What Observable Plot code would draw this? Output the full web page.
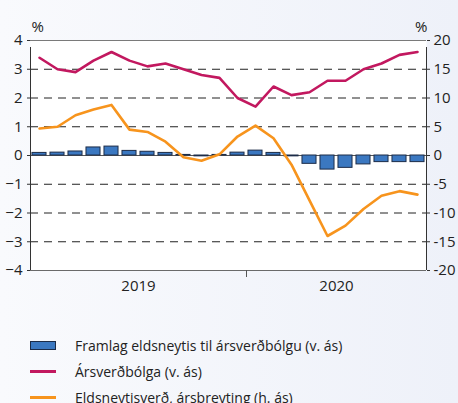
<!DOCTYPE html>
<html><head><meta charset="utf-8">
<script src="https://cdn.jsdelivr.net/npm/d3@7"></script>
<script src="https://cdn.jsdelivr.net/npm/@observablehq/plot@0.6"></script>
<style>
html,body{margin:0;padding:0;}
body{width:458px;height:403px;overflow:hidden;background:linear-gradient(90deg,#f9fafd 0%,#eef1f9 100%);font-family:"Open Sans",sans-serif;}
#legend{position:absolute;left:30px;top:332px;font-size:14px;color:#222;}
.row{height:26px;display:flex;align-items:center;}
.sw{width:26px;margin-right:19px;box-sizing:border-box;}
</style></head>
<body>
<div id="chart"></div>
<div id="legend"></div>
<script>
const months = ["2019-01","2019-02","2019-03","2019-04","2019-05","2019-06","2019-07","2019-08","2019-09","2019-10","2019-11","2019-12",
                "2020-01","2020-02","2020-03","2020-04","2020-05","2020-06","2020-07","2020-08","2020-09","2020-10"];
const inflation = [3.4,3.0,2.9,3.3,3.6,3.3,3.1,3.2,3.0,2.8,2.7,2.0,1.7,2.4,2.1,2.2,2.6,2.6,3.0,3.2,3.5,3.6];
const fuelChange = [4.7,5.0,7.0,8.0,8.8,4.5,4.1,2.4,-0.3,-0.9,0.2,3.3,5.2,3.0,-1.6,-7.8,-14.0,-12.2,-9.3,-7.0,-6.2,-6.8];
const fuelContribution = [0.09,0.1,0.14,0.28,0.31,0.16,0.13,0.09,0.02,-0.03,0.02,0.1,0.17,0.09,-0.03,-0.29,-0.49,-0.43,-0.31,-0.23,-0.23,-0.23];
const years = ["2019","2020"];
const leftTicks = [-4,-3,-2,-1,0,1,2,3,4];
const gridTicks = [-3,-2,-1,1,2,3];
const legendLabels = ["Framlag eldsneytis til ársverðbólgu (v. ás)","Ársverðbólga (v. ás)","Eldsneytisverð, ársbreyting (h. ás)"];

const C_BAR = "#3b78c1", C_BAR_STROKE = "#1c2c48", C_INF = "#c2185f", C_FUEL = "#f7941d";
const RATIO = 5; // right axis = left axis * 5

const data = months.map((m,i)=>({i, m, inf: inflation[i], fuel: fuelChange[i], contrib: fuelContribution[i]}));
const yearIdx = years.map(y => {
  const idx = months.map((m,i)=>m.startsWith(y)?i:-1).filter(i=>i>=0);
  return {year:y, mid:(idx[0]+idx[idx.length-1])/2, start: idx[0]-0.5};
});

const plot = Plot.plot({
  width: 458, height: 300,
  marginLeft: 30, marginRight: 32, marginTop: 40, marginBottom: 30,
  style: {background: "transparent", fontFamily: "Open Sans, sans-serif", fontSize: "15px", color: "#222"},
  x: {domain: [-0.5, months.length - 0.5], axis: null},
  y: {domain: [-4, 4], axis: null},
  marks: [
    Plot.frame({fill: "white", stroke: "none"}),
    Plot.ruleY(gridTicks, {stroke: "#222", strokeWidth: 1, strokeDasharray: "8,6"}),
    Plot.ruleY([4], {stroke: "#7a7a7a"}),
    Plot.ruleY([-4], {stroke: "#6a6a6a"}),
    Plot.ruleY([0], {stroke: "#555"}),
    Plot.rectY(data, {x1: d => d.i - 0.39, x2: d => d.i + 0.39, y1: 0, y2: "contrib", fill: C_BAR, stroke: C_BAR_STROKE, strokeWidth: 1}),
    Plot.line(data, {x: "i", y: d => d.fuel / RATIO, stroke: C_FUEL, strokeWidth: 2.6}),
    Plot.line(data, {x: "i", y: "inf", stroke: C_INF, strokeWidth: 2.6}),
    Plot.ruleX([-0.5], {y1: -4, y2: 4, stroke: "#333", insetBottom: -7}),
    Plot.ruleX([months.length - 0.5], {y1: -4, y2: 4, stroke: "#333", insetBottom: -7}),
    Plot.axisY(leftTicks, {anchor: "left", label: null, tickSize: 3, tickPadding: 5, stroke: "#333"}),
    Plot.axisY(leftTicks, {anchor: "right", label: null, tickSize: 3, tickPadding: 4, stroke: "#333", tickFormat: d => String(d * RATIO)}),
    Plot.axisX(yearIdx.slice(1).map(d => d.start), {anchor: "bottom", label: null, tickSize: 7, tickFormat: () => "", stroke: "#555"}),
    Plot.axisX(yearIdx.map(d => d.mid), {anchor: "bottom", label: null, tickSize: 0, tickPadding: 10, tickFormat: v => yearIdx.find(d => d.mid === v).year}),
    Plot.text(["%"], {frameAnchor: "top-left", textAnchor: "start", dx: 1, dy: -19, fill: "#222"}),
    Plot.text(["%"], {frameAnchor: "top-right", textAnchor: "end", dx: 1, dy: -19, fill: "#222"})
  ]
});
document.getElementById("chart").appendChild(plot);

const legend = document.getElementById("legend");
const swatches = [
  `<div class="sw" style="height:9px;background:${C_BAR};border:1px solid ${C_BAR_STROKE}"></div>`,
  `<div class="sw" style="height:3px;background:${C_INF}"></div>`,
  `<div class="sw" style="height:3px;background:${C_FUEL}"></div>`
];
legendLabels.forEach((t,k)=>{
  const r = document.createElement("div");
  r.className = "row";
  r.innerHTML = swatches[k] + `<span>${t}</span>`;
  legend.appendChild(r);
});
</script>
</body></html>
